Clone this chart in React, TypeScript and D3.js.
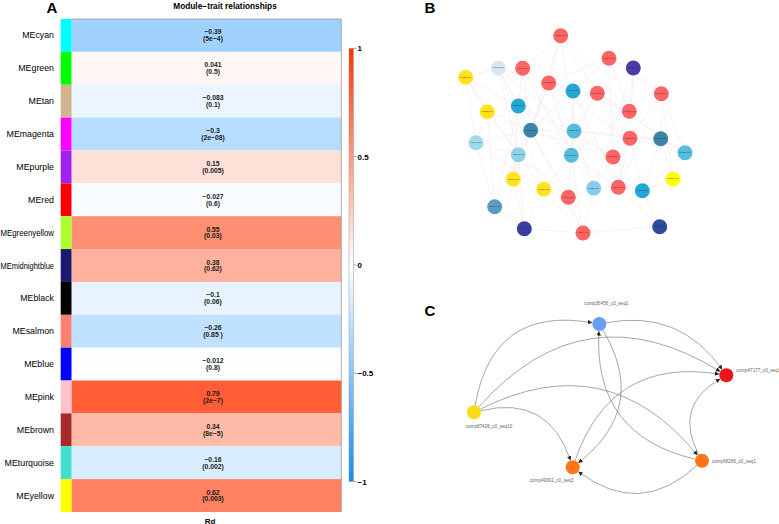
import React from 'react';
import * as d3 from 'd3';

// ---------- Panel A data ----------
const modules = ['MEcyan', 'MEgreen', 'MEtan', 'MEmagenta', 'MEpurple', 'MEred', 'MEgreenyellow', 'MEmidnightblue', 'MEblack', 'MEsalmon', 'MEblue', 'MEpink', 'MEbrown', 'MEturquoise', 'MEyellow'];
const moduleColors = ['#00FFFF', '#00FF00', '#D2B48C', '#FF00FF', '#A020F0', '#FF0000', '#ADFF2F', '#191970', '#000000', '#FA8072', '#0000FF', '#FFC0CB', '#A52A2A', '#40E0D0', '#FFFF00'];
const corrValues = [-0.39, 0.041, -0.083, -0.3, 0.15, -0.027, 0.55, 0.38, -0.1, -0.26, -0.012, 0.79, 0.34, -0.16, 0.62];
const corrLabels = ['−0.39', '0.041', '−0.083', '−0.3', '0.15', '−0.027', '0.55', '0.38', '−0.1', '−0.26', '−0.012', '0.79', '0.34', '−0.16', '0.62'];
const pLabels = ['(5e−4)', '(0.5)', '(0.1)', '(2e−08)', '(0.005)', '(0.6)', '(0.03)', '(0.62)', '(0.06)', '(0.85 )', '(0.8)', '(2e−7)', '(8e−5)', '(0.002)', '(0.003)'];
const traitName = 'Rd';
const legendTicks = [1, 0.5, 0, -0.5, -1];
const legendTickLabels = ['1', '0.5', '0', '−0.5', '−1'];

// ---------- Panel B data (layout coordinates) ----------
const bNodeX = [100.7, 149, 173.3, 38.3, 62.7, 5.7, 88.7, 113, 137.3, 201.3, 27.3, 58.3, 169.3, 70.7, 114, 16, 170, 200.7, 58.3, 111.3, 153, 225, 53.3, 213, 83.7, 133.7, 158.3, 108.3, 182.3, 34.7, 64.3, 123, 199.7];
const bNodeY = [5.7, 28.3, 38, 38, 38.3, 47.3, 53, 61, 63.3, 63.7, 81.7, 76, 81.3, 100.3, 101, 112.7, 108.3, 108.7, 124.7, 125.3, 127, 122.7, 149.3, 149, 159.3, 158.3, 157.3, 167.3, 160.7, 176.7, 198.7, 203, 196.7];
const bNodeGroup = ['red', 'red', 'purple', 'pale', 'red', 'yellow', 'red', 'cyan', 'red', 'red', 'yellow', 'cyan', 'red', 'steel', 'light', 'sky', 'red', 'steel', 'light2', 'light', 'red', 'light', 'yellow', 'bright', 'yellow', 'skyblue', 'red', 'red', 'cyan', 'steel2', 'navy', 'red', 'navy2'];
const bNodeNames = ['comp59301_c0_seq2', 'comp61204_c1_seq1', 'comp40122_c0_seq3', 'comp50733_c0_seq1', 'comp66190_c0_seq4', 'comp70215_c0_seq1', 'comp39542_c0_seq2', 'comp48113_c0_seq1', 'comp52290_c1_seq2', 'comp63371_c0_seq1', 'comp45208_c0_seq1', 'comp57724_c0_seq5', 'comp68812_c0_seq1', 'comp41963_c0_seq2', 'comp55507_c0_seq1', 'comp60420_c0_seq3', 'comp47731_c0_seq1', 'comp53168_c0_seq2', 'comp64492_c0_seq1', 'comp49875_c0_seq1', 'comp58036_c0_seq4', 'comp42619_c0_seq1', 'comp67143_c0_seq2', 'comp51382_c0_seq1', 'comp46927_c0_seq3', 'comp62055_c0_seq1', 'comp38714_c0_seq1', 'comp56849_c0_seq2', 'comp69530_c0_seq1', 'comp44186_c0_seq1', 'comp54673_c0_seq2', 'comp65398_c0_seq1', 'comp43051_c0_seq1'];
const bGroupColors: Record<string, string> = {
  red: '#FF6464', yellow: '#FFE31F', bright: '#FFFF00', cyan: '#23A8D6', steel: '#3C85AA', light: '#55BCDC',
  light2: '#8ED1E8', sky: '#A3D9EC', pale: '#D6E6F0', purple: '#4B3CA8', navy: '#3A3F9F', navy2: '#2D4CA0',
  skyblue: '#86CDF0', steel2: '#5B9FBF',
};
const bEdgeSource = [0, 0, 0, 0, 0, 0, 1, 1, 1, 1, 1, 1, 2, 2, 2, 2, 3, 3, 3, 3, 3, 3, 4, 4, 4, 4, 4, 5, 5, 5, 6, 6, 6, 6, 7, 7, 7, 7, 8, 8, 8, 8, 9, 9, 9, 9, 10, 10, 10, 11, 11, 11, 11, 11, 12, 12, 12, 13, 13, 13, 13, 13, 14, 14, 14, 14, 15, 15, 15, 15, 16, 16, 16, 16, 17, 17, 18, 18, 18, 18, 19, 19, 19, 19, 20, 20, 20, 21, 21, 22, 22, 23, 24, 24, 24, 25, 25, 26, 26, 27, 28, 29, 30, 31, 14, 13, 19, 17, 12, 7, 3, 5, 10, 1, 9];
const bEdgeTarget = [4, 6, 8, 12, 13, 14, 8, 9, 12, 7, 6, 20, 12, 16, 9, 25, 5, 11, 13, 18, 14, 24, 11, 7, 13, 19, 16, 15, 11, 10, 14, 19, 13, 22, 12, 13, 19, 26, 12, 16, 21, 14, 17, 16, 21, 26, 15, 13, 18, 14, 19, 20, 22, 29, 17, 26, 19, 14, 18, 27, 31, 20, 19, 16, 25, 17, 18, 29, 24, 13, 17, 26, 21, 28, 21, 23, 22, 24, 30, 27, 25, 27, 26, 31, 26, 28, 25, 28, 23, 30, 29, 28, 27, 30, 31, 27, 31, 32, 28, 31, 32, 30, 31, 32, 20, 22, 24, 28, 20, 14, 7, 18, 29, 2, 23];

// ---------- Panel C data (layout coordinates) ----------
const cNodeIds = ['comp36456_c0_seq1', 'comp47177_c0_seq1', 'comp87426_c0_seq10', 'comp49302_c0_seq3', 'comp68286_c0_seq1'];
const cNodeX = [129.3, 256.3, 4, 102.7, 232];
const cNodeY = [24, 75.3, 112.3, 167.3, 160.7];
const cNodeColors = ['#6A9EF5', '#EE141C', '#FFD91A', '#FF7518', '#FF7518'];
const cLabelPos = ['above', 'right', 'below', 'belowLeft', 'right'];
const cEdgeSource = ['comp87426_c0_seq10', 'comp87426_c0_seq10', 'comp87426_c0_seq10', 'comp87426_c0_seq10', 'comp36456_c0_seq1', 'comp36456_c0_seq1', 'comp68286_c0_seq1', 'comp49302_c0_seq3', 'comp68286_c0_seq1', 'comp68286_c0_seq1'];
const cEdgeTarget = ['comp36456_c0_seq1', 'comp47177_c0_seq1', 'comp68286_c0_seq1', 'comp49302_c0_seq3', 'comp47177_c0_seq1', 'comp49302_c0_seq3', 'comp36456_c0_seq1', 'comp47177_c0_seq1', 'comp47177_c0_seq1', 'comp49302_c0_seq3'];
const cEdgeBend = [-0.25, -0.21, -0.2, -0.23, -0.16, -0.22, -0.21, -0.21, -0.24, -0.21];

const FONT = '"Liberation Sans", Arial, Helvetica, sans-serif';

let _ctx: CanvasRenderingContext2D | null = null;
function textWidth(t: string, font: string): number {
  if (!_ctx) _ctx = document.createElement('canvas').getContext('2d');
  if (!_ctx) return t.length * 5;
  _ctx.font = font;
  return _ctx.measureText(t).width;
}

export default function App() {
  const W = 779, H = 524;

  // Panel A scales
  const yRow = d3.scaleBand<string>().domain(modules).range([19, 512]).paddingInner(0);
  const heatX0 = 71.7, heatX1 = 341.3, stripX0 = 60.7;
  const cellTextX = 213;
  const color = d3.scaleLinear<string>().domain([-1, 0, 1]).range(['#0D8CFF', '#FFFFFF', '#FF3300']).interpolate(d3.interpolateRgb);
  const yLegend = d3.scaleLinear().domain([-1, 1]).range([481.7, 48.3]);
  const gradStops = d3.range(0, 1.0001, 0.05);

  const labelFs = 8.8;
  const labelFont = `${labelFs}px ${FONT}`;
  const labelEnd = 54;

  // Panel B scales
  const xB = d3.scaleLinear().domain([0, 240]).range([460, 700]);
  const yB = d3.scaleLinear().domain([0, 240]).range([30, 270]);
  const rB = 7.5;

  // Panel C scales
  const xC = d3.scaleLinear().domain([0, 300]).range([470, 770]);
  const yC = d3.scaleLinear().domain([0, 200]).range([300, 500]);
  const rC = 7;
  const cIndex = new Map(cNodeIds.map((id, i) => [id, i]));

  const cEdges = cEdgeSource.map((s, i) => {
    const si = cIndex.get(s)!, ti = cIndex.get(cEdgeTarget[i])!;
    const sx = xC(cNodeX[si]), sy = yC(cNodeY[si]);
    const tx = xC(cNodeX[ti]), ty = yC(cNodeY[ti]);
    const dx = tx - sx, dy = ty - sy;
    const len = Math.hypot(dx, dy);
    const px = -dy / len, py = dx / len;
    const cx = (sx + tx) / 2 + px * 2 * cEdgeBend[i] * len;
    const cy = (sy + ty) / 2 + py * 2 * cEdgeBend[i] * len;
    const a1 = Math.hypot(cx - sx, cy - sy), a2 = Math.hypot(cx - tx, cy - ty);
    const x0 = sx + (cx - sx) / a1 * rC, y0 = sy + (cy - sy) / a1 * rC;
    const x1 = tx + (cx - tx) / a2 * (rC + 0.5), y1 = ty + (cy - ty) / a2 * (rC + 0.5);
    const p = d3.path();
    p.moveTo(x0, y0);
    p.quadraticCurveTo(cx, cy, x1, y1);
    return p.toString();
  });

  const labelProps = (i: number) => {
    const x = xC(cNodeX[i]), y = yC(cNodeY[i]);
    switch (cLabelPos[i]) {
      case 'above': return { x: x + 7, y: y - 19, anchor: 'middle' };
      case 'right': return { x: x + 10, y: y - (i === 1 ? 3.5 : -2), anchor: 'start' };
      case 'below': return { x: x + 15, y: y + 16, anchor: 'middle' };
      default: return { x: x - 21, y: y + 15, anchor: 'middle' };
    }
  };

  return (
    <svg width={W} height={H} style={{ position: 'absolute', left: 0, top: 0, background: '#fff' }} fontFamily={FONT}>
      <defs>
        <linearGradient id="legGrad" x1="0" y1="1" x2="0" y2="0">
          {gradStops.map((t) => (
            <stop key={t} offset={`${t * 100}%`} stopColor={color(-1 + 2 * t)} />
          ))}
        </linearGradient>
        <marker id="arrowC" viewBox="0 0 10 10" refX="9" refY="5" markerWidth="4.5" markerHeight="4.5" markerUnits="userSpaceOnUse" orient="auto">
          <path d="M0,0 L10,5 L0,10 z" fill="#222" />
        </marker>
      </defs>

      {/* ---------------- Panel A ---------------- */}
      <text x={52} y={12.5} fontSize={15} fontWeight="bold" textAnchor="middle">A</text>
      <text x={225} y={9} fontSize={8.3} fontWeight="bold" textAnchor="middle">Module−trait relationships</text>

      {modules.map((m, i) => {
        const y = yRow(m)!;
        const h = yRow.bandwidth();
        const w = textWidth(m, labelFont);
        const fit = w > labelEnd - 0.5;
        return (
          <g key={m}>
            <rect x={stripX0} y={y} width={heatX0 - stripX0} height={h} fill={moduleColors[i]} />
            <rect x={heatX0} y={y} width={heatX1 - heatX0} height={h} fill={color(corrValues[i])} />
            <text x={labelEnd} y={y + h / 2 + 3} fontSize={labelFs} textAnchor="end"
              {...(fit ? { textLength: labelEnd - 0.5, lengthAdjust: 'spacingAndGlyphs' } : {})}>{m}</text>
            <text x={cellTextX} y={y + h / 2 - 1} fontSize={6.8} fontWeight="bold" textAnchor="middle" fill="#1a1a1a">{corrLabels[i]}</text>
            <text x={cellTextX} y={y + h / 2 + 5.8} fontSize={6.8} fontWeight="bold" textAnchor="middle" fill="#1a1a1a">{pLabels[i]}</text>
          </g>
        );
      })}
      <path d={`M${heatX0},19 H${heatX1} V512`} fill="none" stroke="#9a9a9a" strokeWidth={0.8} />
      <text x={210} y={523.5} fontSize={8} fontWeight="bold" textAnchor="middle">{traitName}</text>

      {/* legend */}
      <rect x={349} y={yLegend(1)} width={4.5} height={yLegend(-1) - yLegend(1)} fill="url(#legGrad)" stroke="#999" strokeWidth={0.5} />
      {legendTicks.map((t, i) => (
        <g key={t}>
          <line x1={353.5} x2={356.5} y1={yLegend(t)} y2={yLegend(t)} stroke="#666" strokeWidth={0.6} />
          <text x={357.5} y={yLegend(t) + 2.9} fontSize={8} fontWeight="bold">{legendTickLabels[i]}</text>
        </g>
      ))}

      {/* ---------------- Panel B ---------------- */}
      <text x={430} y={12.5} fontSize={15} fontWeight="bold" textAnchor="middle">B</text>
      <g>
        {bEdgeSource.map((s, i) => (
          <line key={i} x1={xB(bNodeX[s])} y1={yB(bNodeY[s])} x2={xB(bNodeX[bEdgeTarget[i]])} y2={yB(bNodeY[bEdgeTarget[i]])}
            stroke={i % 3 === 0 ? '#ECE8EF' : '#F6DEE5'} strokeWidth={0.5} />
        ))}
      </g>
      {bNodeX.map((x, i) => (
        <g key={i}>
          <circle cx={xB(x)} cy={yB(bNodeY[i])} r={rB} fill={bGroupColors[bNodeGroup[i]]} />
          <text x={xB(x)} y={yB(bNodeY[i]) + 0.4} fontSize={1.15} textAnchor="middle" fill="#222">{bNodeNames[i]}</text>
        </g>
      ))}

      {/* ---------------- Panel C ---------------- */}
      <text x={430} y={316} fontSize={15} fontWeight="bold" textAnchor="middle">C</text>
      {cEdges.map((d, i) => (
        <path key={i} d={d} fill="none" stroke="#6a6a6a" strokeWidth={0.6} markerEnd="url(#arrowC)" />
      ))}
      {cNodeIds.map((id, i) => {
        const lp = labelProps(i);
        return (
          <g key={id}>
            <circle cx={xC(cNodeX[i])} cy={yC(cNodeY[i])} r={rC} fill={cNodeColors[i]} />
            <text x={lp.x} y={lp.y} fontSize={4.6} fill="#666" textAnchor={lp.anchor}>{id}</text>
          </g>
        );
      })}
    </svg>
  );
}
